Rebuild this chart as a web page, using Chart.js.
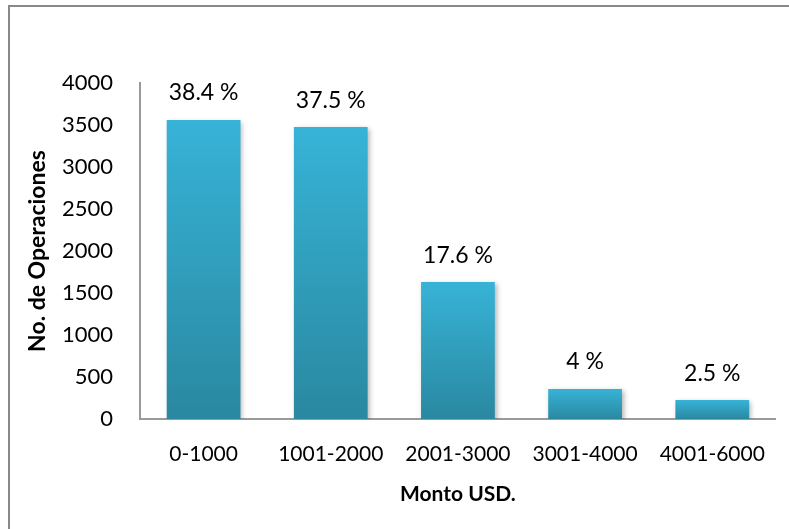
<!DOCTYPE html>
<html>
<head>
<meta charset="utf-8">
<script src="https://cdn.jsdelivr.net/npm/chart.js@4/dist/chart.umd.min.js"></script>
<style>
  html, body { margin: 0; padding: 0; background: #fff; overflow: hidden; }
  #wrap { position: relative; width: 789px; height: 529px; }
  #marco {
    position: absolute; left: 8px; top: 5px; width: 900px; height: 700px;
    border-left: 2px solid #898989; border-top: 2px solid #898989;
    pointer-events: none;
  }
  canvas { position: absolute; left: 0; top: 0; }
</style>
</head>
<body>
<div id="wrap">
  <canvas id="grafico" width="789" height="529"></canvas>
  <div id="marco"></div>
</div>
<script>
// Datos del grafico
const rangos = ["0-1000", "1001-2000", "2001-3000", "3001-4000", "4001-6000"];
const operaciones = [3560, 3475, 1630, 357, 225];
const porcentajes = ["38.4 %", "37.5 %", "17.6 %", "4 %", "2.5 %"];

const fuente = "Lato, 'Open Sans', sans-serif";

// Degradado por barra, de arriba (claro) a la base (oscuro)
function colorBarra(context) {
  const chart = context.chart;
  const y = chart.scales.y;
  if (!y || context.parsed === undefined) return "#33a9c9";
  const top = y.getPixelForValue(context.parsed.y);
  const base = y.getPixelForValue(0);
  if (!isFinite(top) || !isFinite(base) || top === base) return "#33a9c9";
  const grad = chart.ctx.createLinearGradient(0, top, 0, base);
  grad.addColorStop(0, "#37b3d7");
  grad.addColorStop(1, "#2a88a0");
  return grad;
}

// Sombra suave de las barras
const sombra = {
  id: "sombra",
  beforeDatasetsDraw(chart) {
    const ctx = chart.ctx;
    ctx.save();
    ctx.shadowColor = "rgba(0,0,0,0.3)";
    ctx.shadowBlur = 5;
    ctx.shadowOffsetX = 2;
    ctx.shadowOffsetY = 2;
  },
  afterDatasetsDraw(chart) {
    chart.ctx.restore();
  },
};

// Etiquetas de porcentaje encima de cada barra
const etiquetas = {
  id: "etiquetas",
  afterDraw(chart) {
    const ctx = chart.ctx;
    const meta = chart.getDatasetMeta(0);
    ctx.save();
    ctx.font = "23px " + fuente;
    ctx.fillStyle = "#000";
    ctx.textAlign = "center";
    ctx.textBaseline = "middle";
    meta.data.forEach((bar, i) => {
      ctx.fillText(porcentajes[i], bar.x, bar.y - 27);
    });
    ctx.restore();
  },
};

const ctx = document.getElementById("grafico");
const myBarChart = new Chart(ctx, {
  type: "bar",
  data: {
    labels: rangos,
    datasets: [
      {
        data: operaciones,
        backgroundColor: colorBarra,
        borderWidth: 0,
        barPercentage: 0.58,
        categoryPercentage: 1,
      },
    ],
  },
  options: {
    responsive: false,
    animation: false,
    events: [],
    layout: { padding: { left: 0, top: 83, right: 11, bottom: 0 } },
    plugins: {
      legend: { display: false },
      tooltip: { enabled: false },
    },
    scales: {
      x: {
        grid: { display: false, drawTicks: false },
        border: { display: true, color: "#9a9a9a", width: 2 },
        ticks: {
          color: "#000",
          padding: 23,
          maxRotation: 0,
          font: { family: fuente, size: 21 },
        },
        title: {
          display: true,
          text: "Monto USD.",
          color: "#000",
          font: { family: fuente, size: 21, weight: "bold" },
          padding: { top: 0, bottom: 22 },
        },
        afterFit(scale) {
          scale.height = 110;
        },
      },
      y: {
        min: 0,
        max: 4000,
        grid: { display: false, drawTicks: false },
        border: { display: true, color: "#9a9a9a", width: 2 },
        ticks: {
          stepSize: 500,
          color: "#000",
          padding: 27,
          font: { family: fuente, size: 22 },
          callback: (valor) => String(valor),
        },
        title: {
          display: true,
          text: "No. de Operaciones",
          color: "#000",
          font: { family: fuente, size: 23, weight: "bold" },
          padding: { top: 24, bottom: 0 },
        },
        afterFit(scale) {
          scale.width = 140;
        },
      },
    },
  },
  plugins: [sombra, etiquetas],
});
</script>
</body>
</html>
